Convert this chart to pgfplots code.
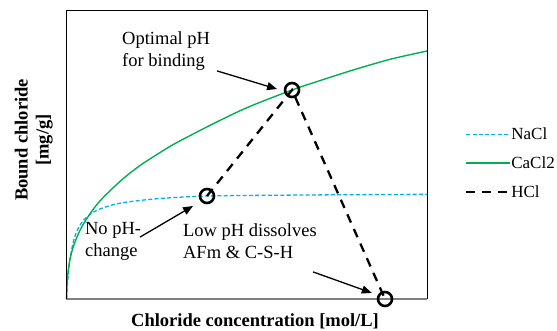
\documentclass[border=0pt]{standalone}
\usepackage{fontspec}
\setmainfont{Liberation Serif}
\usepackage{pgfplots}
\pgfplotsset{compat=1.18}
\usetikzlibrary{arrows.meta}
\definecolor{nacl}{RGB}{0,176,240}
\definecolor{cacl}{RGB}{0,176,80}
\newcommand{\annot}{\fontsize{18.5}{22}\selectfont}

\begin{document}
\begin{tikzpicture}
\begin{axis}[
  width=360.5pt, height=288pt, scale only axis,
  xmin=0, xmax=1, ymin=0, ymax=1,
  xtick=\empty, ytick=\empty,
  axis line style={black, line width=1pt},
  clip=false,
  xlabel={Chloride concentration [mol/L]},
  xlabel style={at={(rel axis cs:0.523,-0.0972)}, anchor=base, inner sep=0pt,
    font=\fontsize{18.5}{22}\selectfont\bfseries},
  ylabel={Bound chloride\\{}[mg/g]},
  ylabel style={at={(rel axis cs:-0.0374,0.552)}, anchor=south, inner sep=0pt,
    align=center, font=\fontsize{18.5}{21}\selectfont\bfseries},
  legend style={at={(rel axis cs:1.105,0.593)}, anchor=north west,
    draw=none, fill=none, inner sep=0pt, row sep=17.5pt,
    font=\fontsize{17}{17}\selectfont,
    nodes={inner sep=0pt, text height=11.5pt, text depth=0pt}},
  legend cell align=left,
  legend image code/.code={\draw[#1] (0pt,0pt) -- (44pt,0pt);},
]
% NaCl binding isotherm
\addplot[nacl, line width=1.3pt, dash pattern=on 4pt off 2.3pt, smooth] coordinates {
  (0,0) (0.002,0.041) (0.005,0.088) (0.01,0.142) (0.02,0.204) (0.03,0.239)
  (0.045,0.270) (0.07,0.298) (0.1,0.316) (0.15,0.333) (0.25,0.348)
  (0.3897,0.3576) (0.6,0.3605) (0.8,0.3622) (1,0.3635)};
\addlegendentry{NaCl}
% CaCl2 binding isotherm
\addplot[cacl, line width=1.4pt, smooth] coordinates {
  (0,0) (0.002,0.062) (0.005,0.100) (0.01,0.140) (0.02,0.186) (0.035,0.232)
  (0.05,0.267) (0.075,0.313) (0.1,0.350) (0.15,0.410) (0.2,0.460)
  (0.25,0.501) (0.3,0.539) (0.4,0.604) (0.5,0.664) (0.6256,0.7257)
  (0.7,0.757) (0.8,0.797) (0.9,0.833) (1,0.861)};
\addlegendentry{CaCl2}
% HCl path
\addplot[black, line width=2.3pt, dash pattern=on 9pt off 7pt] coordinates {
  (0.3897,0.3576) (0.6256,0.7257) (0.8835,0)};
\addlegendentry{HCl}
\addplot[only marks, mark=o, mark size=7pt, line width=2.6pt, black, forget plot]
  coordinates {(0.3897,0.3576) (0.6256,0.7257) (0.8835,0)};

% heavier grey baseline and left edge
\draw[line width=2pt, black!50] (rel axis cs:0,0) -- (rel axis cs:1,0);
\draw[line width=1.5pt, black] (rel axis cs:0,0) -- (rel axis cs:0,1);

% annotations
\node[anchor=base west, align=left, font=\annot, inner sep=0pt]
  at (axis cs:0.154,0.806) {Optimal pH\\for binding};
\node[anchor=base west, align=left, font=\annot, inner sep=0pt]
  at (axis cs:0.051,0.146) {No pH-\\change};
\node[anchor=base west, align=left, font=\annot, inner sep=0pt]
  at (axis cs:0.323,0.142) {Low pH dissolves\\AFm \& C-S-H};
\draw[-{Triangle[length=10pt,width=8pt]}, line width=1.3pt]
  (axis cs:0.4175,0.792) -- (axis cs:0.584,0.729);
\draw[-{Triangle[length=10pt,width=8pt]}, line width=1.3pt]
  (axis cs:0.204,0.215) -- (axis cs:0.351,0.323);
\draw[-{Triangle[length=10pt,width=8pt]}, line width=1.3pt]
  (axis cs:0.684,0.094) -- (axis cs:0.847,0.021);

\coordinate (bl) at (rel axis cs:0,0);
\coordinate (tr) at (rel axis cs:1,1);
\end{axis}
\pgfresetboundingbox
\useasboundingbox ([xshift=-66.5pt,yshift=-32pt]bl) rectangle ([xshift=130pt,yshift=11pt]tr);
\end{tikzpicture}
\end{document}
